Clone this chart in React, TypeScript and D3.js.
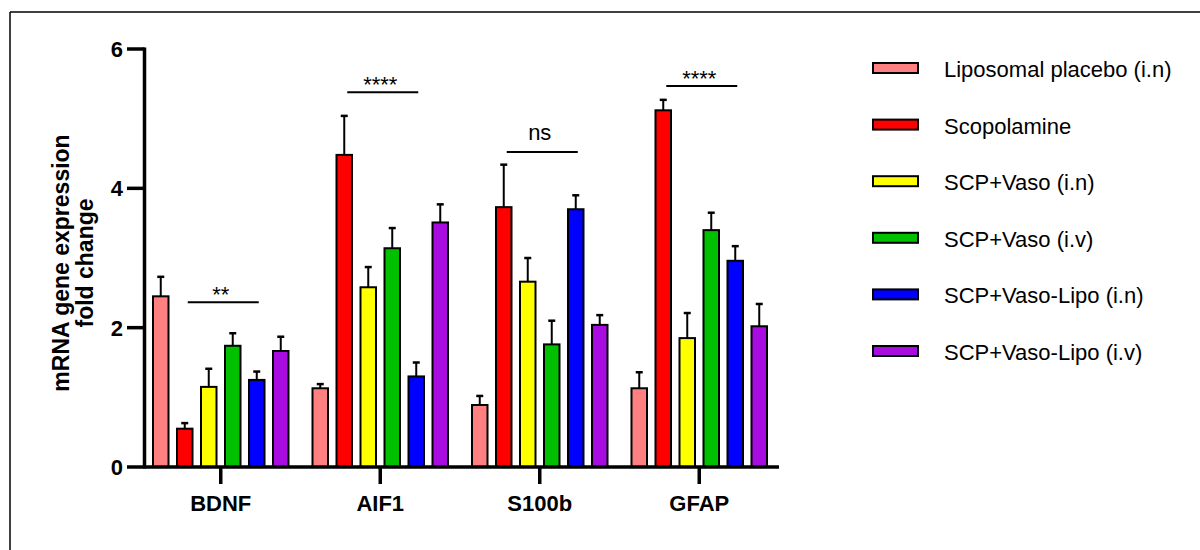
import React from "react";
import * as d3 from "d3";

const categories = ["BDNF", "AIF1", "S100b", "GFAP"];
const seriesNames = [
  "Liposomal placebo (i.n)",
  "Scopolamine",
  "SCP+Vaso (i.n)",
  "SCP+Vaso (i.v)",
  "SCP+Vaso-Lipo (i.n)",
  "SCP+Vaso-Lipo (i.v)",
];
const seriesColors = ["#FF8080", "#FF0000", "#FFFF00", "#00C000", "#0000FF", "#A80CE0"];

const liposomalPlacebo = [2.45, 1.13, 0.89, 1.13];
const scopolamine = [0.55, 4.48, 3.73, 5.12];
const scpVasoIn = [1.15, 2.58, 2.66, 1.85];
const scpVasoIv = [1.74, 3.14, 1.76, 3.4];
const scpVasoLipoIn = [1.25, 1.3, 3.7, 2.96];
const scpVasoLipoIv = [1.665, 3.51, 2.04, 2.02];

const errLiposomalPlacebo = [0.28, 0.06, 0.13, 0.23];
const errScopolamine = [0.08, 0.56, 0.61, 0.15];
const errScpVasoIn = [0.26, 0.29, 0.34, 0.36];
const errScpVasoIv = [0.18, 0.29, 0.34, 0.25];
const errScpVasoLipoIn = [0.12, 0.2, 0.2, 0.21];
const errScpVasoLipoIv = [0.205, 0.26, 0.14, 0.32];

const yTicks = [0, 2, 4, 6];

const sigCategories = ["BDNF", "AIF1", "S100b", "GFAP"];
const sigLabels = ["**", "****", "ns", "****"];
const sigLevels = [2.365, 5.38, 4.52, 5.47];

const means = [liposomalPlacebo, scopolamine, scpVasoIn, scpVasoIv, scpVasoLipoIn, scpVasoLipoIv];
const errs = [errLiposomalPlacebo, errScopolamine, errScpVasoIn, errScpVasoIv, errScpVasoLipoIn, errScpVasoLipoIv];

const FONT = "'Liberation Sans', Arial, sans-serif";

export default function App() {
  const x = d3.scaleBand<string>().domain(categories).range([141, 779]);
  const inner = d3
    .scaleBand<string>()
    .domain(seriesNames)
    .range([-72, 72])
    .paddingInner(0.354)
    .paddingOuter(0.177);
  const y = d3.scaleLinear().domain([0, 6]).range([467, 49]);
  const axisX = 144.5;
  const bw = inner.bandwidth();

  return (
    <svg
      width={1200}
      height={550}
      style={{ position: "absolute", left: 0, top: 0, background: "#fff" }}
      fontFamily={FONT}
    >
      {/* frame */}
      <line x1={10} x2={1200} y1={12} y2={12} stroke="#000" strokeWidth={1.5} />
      <line x1={10} x2={10} y1={12} y2={550} stroke="#000" strokeWidth={1.5} />

      {/* bars */}
      {categories.map((cat, ci) => {
        const c = (x(cat) ?? 0) + x.bandwidth() / 2;
        return (
          <g key={cat}>
            {seriesNames.map((s, si) => {
              const x0 = c + (inner(s) ?? 0);
              const v = means[si][ci];
              const e = errs[si][ci];
              const xm = x0 + bw / 2;
              return (
                <g key={s}>
                  <line x1={xm} x2={xm} y1={y(v)} y2={y(v + e)} stroke="#000" strokeWidth={2} />
                  <line x1={xm - 3.5} x2={xm + 3.5} y1={y(v + e)} y2={y(v + e)} stroke="#000" strokeWidth={2.5} />
                  <rect
                    x={x0}
                    y={y(v)}
                    width={bw}
                    height={y(0) - y(v)}
                    fill={seriesColors[si]}
                    stroke="#000"
                    strokeWidth={2}
                  />
                </g>
              );
            })}
          </g>
        );
      })}

      {/* significance */}
      {sigCategories.map((cat, i) => {
        const c = (x(cat) ?? 0) + x.bandwidth() / 2;
        const x1 = c + (inner(seriesNames[1]) ?? 0) + bw / 2 + 3;
        const x2 = c + (inner(seriesNames[4]) ?? 0) + bw / 2 + 2;
        const ly = y(sigLevels[i]);
        const isNs = sigLabels[i] === "ns";
        return (
          <g key={cat}>
            <line x1={x1} x2={x2} y1={ly} y2={ly} stroke="#000" strokeWidth={2} />
            <text
              x={c}
              y={isNs ? ly - 12 : ly}
              textAnchor="middle"
              fontSize={22}
              fill="#000"
            >
              {sigLabels[i]}
            </text>
          </g>
        );
      })}

      {/* y axis */}
      <line x1={axisX} x2={axisX} y1={y(6) - 1.5} y2={y(0) + 1.5} stroke="#000" strokeWidth={3.5} />
      {yTicks.map((t) => (
        <g key={t}>
          <line x1={127} x2={axisX} y1={y(t)} y2={y(t)} stroke="#000" strokeWidth={3.5} />
          <text
            x={123}
            y={y(t) + 8}
            textAnchor="end"
            fontSize={22}
            fontWeight="bold"
            fill="#000"
          >
            {t}
          </text>
        </g>
      ))}

      {/* x axis */}
      <line x1={axisX} x2={779} y1={y(0)} y2={y(0)} stroke="#000" strokeWidth={3.5} />
      {categories.map((cat) => {
        const c = (x(cat) ?? 0) + x.bandwidth() / 2;
        return (
          <g key={cat}>
            <line x1={c} x2={c} y1={y(0)} y2={y(0) + 17} stroke="#000" strokeWidth={3.5} />
            <text x={c} y={511} textAnchor="middle" fontSize={22} fontWeight="bold" fill="#000">
              {cat}
            </text>
          </g>
        );
      })}

      {/* y title */}
      <g transform="translate(61,263) rotate(-90)">
        <text x={0} y={8} textAnchor="middle" fontSize={23} fontWeight="bold" fill="#000">
          mRNA gene expression
        </text>
        <text x={0} y={32} textAnchor="middle" fontSize={23} fontWeight="bold" fill="#000">
          fold change
        </text>
      </g>

      {/* legend */}
      {seriesNames.map((s, i) => {
        const cy = 68 + i * 56.6;
        return (
          <g key={s}>
            <rect x={873} y={cy - 5} width={45} height={10} fill={seriesColors[i]} stroke="#000" strokeWidth={2} />
            <text x={944} y={cy + 9} fontSize={22} fill="#000">
              {s}
            </text>
          </g>
        );
      })}
    </svg>
  );
}
